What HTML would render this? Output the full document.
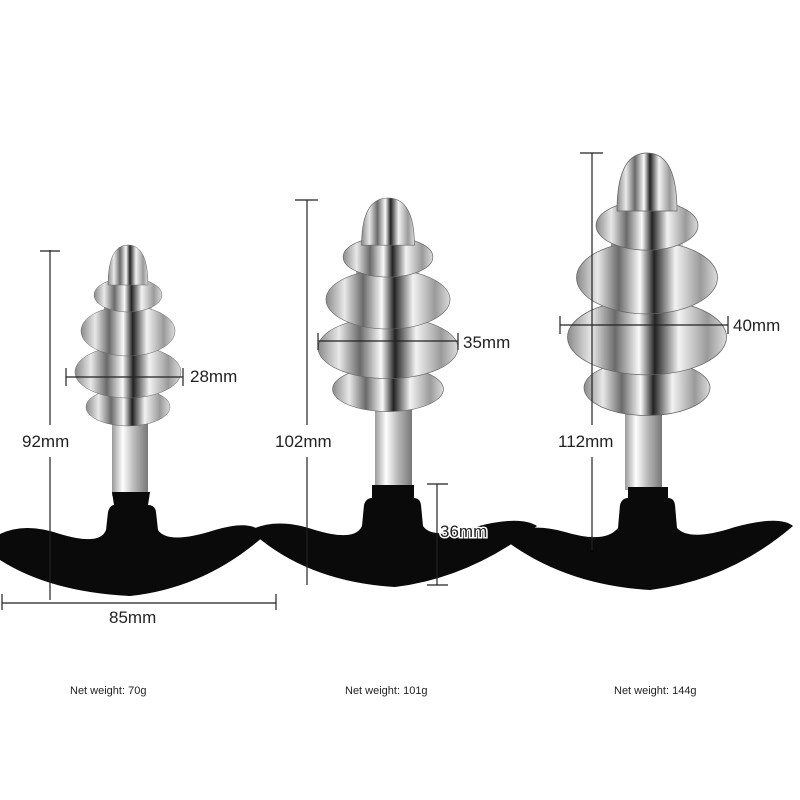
<!DOCTYPE html>
<html><head><style>
body{margin:0;background:#fff;}
svg{display:block}
text{font-family:"Liberation Sans",sans-serif;fill:#222}
</style></head><body>
<svg width="800" height="800" viewBox="0 0 800 800" xmlns="http://www.w3.org/2000/svg">
<defs>
<linearGradient id="s" x1="0" x2="1" y1="0" y2="0">
<stop offset="0" stop-color="#8a8a8a"/><stop offset="0.15" stop-color="#e8e8e8"/><stop offset="0.3" stop-color="#6a6a6a"/><stop offset="0.45" stop-color="#fafafa"/><stop offset="0.55" stop-color="#222"/><stop offset="0.7" stop-color="#f2f2f2"/><stop offset="0.88" stop-color="#9a9a9a"/><stop offset="1" stop-color="#dcdcdc"/>
</linearGradient>
<linearGradient id="st" x1="0" x2="1">
<stop offset="0" stop-color="#999"/><stop offset="0.3" stop-color="#fff"/><stop offset="0.6" stop-color="#bbb"/><stop offset="1" stop-color="#777"/>
</linearGradient>
<g id="top">
<rect x="-24" y="55" width="48" height="110" fill="url(#s)"/>
<ellipse cx="0" cy="162" rx="42" ry="19" fill="url(#s)" stroke="#666" stroke-width="0.5"/>
<ellipse cx="0" cy="127" rx="53" ry="26" fill="url(#s)" stroke="#666" stroke-width="0.5"/>
<ellipse cx="0" cy="86" rx="47" ry="25" fill="url(#s)" stroke="#666" stroke-width="0.5"/>
<ellipse cx="0" cy="50" rx="34" ry="17" fill="url(#s)" stroke="#666" stroke-width="0.5"/>
<path d="M-20,40 Q-20,0 0,0 Q20,0 20,40 Z" fill="url(#s)" stroke="#666" stroke-width="0.5"/>
</g>
</defs>

<rect x="112" y="420" width="36" height="76" fill="url(#st)"/>
<path d="M0,534 Q25,522 60,534 Q100,546 106,530 L108,512 Q110,505 114,505 L112,492 L150,492 L148,505 Q155,505 156,512 L158,530 Q168,545 215,530 Q255,518 264,536 Q205,588 130,596 Q50,592 0,560 Z" fill="#0a0a0a"/>
<use href="#top" transform="translate(128,245)"/>

<rect x="375" y="405" width="37" height="85" fill="url(#st)"/>
<path d="M255,528 Q280,518 315,530 Q355,542 362,526 L364,505 Q366,498 372,498 L372,485 L414,485 L414,498 Q420,498 421,505 L423,526 Q432,540 475,527 Q520,515 537,526 Q470,578 395,587 Q310,582 255,535 Z" fill="#0a0a0a"/>
<use href="#top" transform="translate(388,198) scale(1.32,1.18)"/>

<rect x="625" y="410" width="37" height="80" fill="url(#st)"/>
<path d="M505,535 Q530,522 565,532 Q605,544 618,528 L620,505 Q622,498 628,498 L628,487 L668,487 L668,498 Q674,498 675,505 L677,528 Q690,542 735,527 Q780,515 793,526 Q730,580 650,590 Q565,585 505,540 Z" fill="#0a0a0a"/>
<use href="#top" transform="translate(647,153) scale(1.5,1.45)"/>

<g stroke="#222" stroke-width="1.2" fill="none">
<line x1="50" y1="250" x2="50" y2="425"/><line x1="50" y1="457" x2="50" y2="600"/>
<line x1="40" y1="251" x2="60" y2="251"/>
<line x1="2" y1="603" x2="276" y2="603"/><line x1="2" y1="594" x2="2" y2="610"/><line x1="276" y1="594" x2="276" y2="610"/>
<line x1="66" y1="377" x2="183" y2="377"/><line x1="66" y1="368" x2="66" y2="386"/><line x1="183" y1="368" x2="183" y2="386"/>
<line x1="307" y1="200" x2="307" y2="425"/><line x1="307" y1="457" x2="307" y2="585"/>
<line x1="295" y1="200" x2="318" y2="200"/>
<line x1="318" y1="341" x2="458" y2="341"/><line x1="318" y1="333" x2="318" y2="350"/><line x1="458" y1="333" x2="458" y2="350"/>
<line x1="437" y1="484" x2="437" y2="585"/><line x1="427" y1="484" x2="448" y2="484"/><line x1="427" y1="585" x2="448" y2="585"/>
<line x1="592" y1="153" x2="592" y2="425"/><line x1="592" y1="457" x2="592" y2="550"/>
<line x1="580" y1="153" x2="603" y2="153"/>
<line x1="560" y1="325" x2="728" y2="325"/><line x1="560" y1="316" x2="560" y2="334"/><line x1="728" y1="316" x2="728" y2="334"/>
</g>
<g font-size="17">
<text x="22" y="447">92mm</text>
<text x="109" y="623">85mm</text>
<text x="190" y="382">28mm</text>
<text x="275" y="447">102mm</text>
<text x="463" y="348">35mm</text>
<text x="440" y="537" stroke="#fff" stroke-width="3" paint-order="stroke">36mm</text>
<text x="558" y="447">112mm</text>
<text x="733" y="331">40mm</text>
</g>
<g font-size="11">
<text x="70" y="694">Net weight: 70g</text>
<text x="345" y="694">Net weight: 101g</text>
<text x="614" y="694">Net weight: 144g</text>
</g>
</svg>
</body></html>
